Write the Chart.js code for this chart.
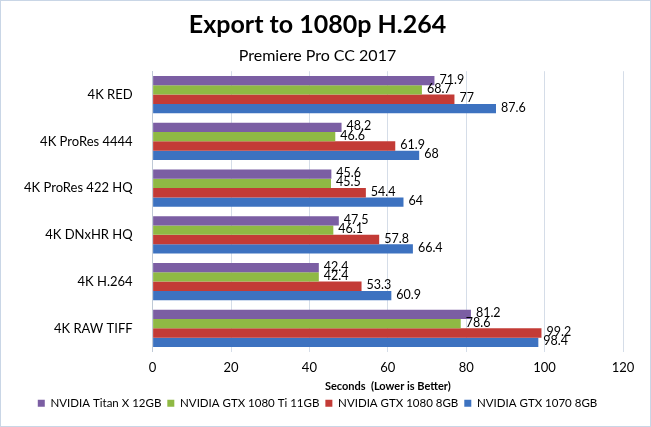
<!DOCTYPE html>
<html>
<head>
<meta charset="utf-8">
<script src="https://cdn.jsdelivr.net/npm/chart.js@4"></script>
<style>
  html, body { margin: 0; padding: 0; background: #fff; }
  #wrap { width: 651px; height: 427px; }
</style>
</head>
<body>
<div id="wrap"><canvas id="chart"></canvas></div>
<script>
var categories = ["4K RED", "4K ProRes 4444", "4K ProRes 422 HQ", "4K DNxHR HQ", "4K H.264", "4K RAW TIFF"];
var titanX = [71.9, 48.2, 45.6, 47.5, 42.4, 81.2];
var gtx1080ti = [68.7, 46.6, 45.5, 46.1, 42.4, 78.6];
var gtx1080 = [77, 61.9, 54.4, 57.8, 53.3, 99.2];
var gtx1070 = [87.6, 68, 64, 66.4, 60.9, 98.4];
var xTicks = [0, 20, 40, 60, 80, 100, 120];

var font = "Lato, 'Open Sans', sans-serif";

// value labels at the end of each bar
var valueLabels = {
    id: 'valueLabels',
    afterDatasetsDraw: function(chart) {
        var ctx = chart.ctx;
        ctx.save();
        ctx.font = "12.5px " + font;
        ctx.fillStyle = '#000';
        ctx.textBaseline = 'middle';
        chart.data.datasets.forEach(function(ds, i) {
            chart.getDatasetMeta(i).data.forEach(function(bar, j) {
                ctx.fillText(ds.data[j], bar.x + 5, bar.y - 1);
            });
        });
        ctx.restore();
    }
};

var frame = {
    id: 'frame',
    afterDraw: function(chart) {
        var ctx = chart.ctx;
        ctx.save();
        ctx.strokeStyle = '#c9d6e6';
        ctx.lineWidth = 1;
        ctx.strokeRect(0.5, 0.5, chart.width - 1, chart.height - 1);
        ctx.restore();
    }
};

var ctx = document.getElementById('chart');
var myChart = new Chart(ctx, {
    type: 'bar',
    data: {
        labels: categories,
        datasets: [
            { label: 'NVIDIA Titan X 12GB', data: titanX, backgroundColor: '#7b5ea3' },
            { label: 'NVIDIA GTX 1080 Ti 11GB', data: gtx1080ti, backgroundColor: '#8fb944' },
            { label: 'NVIDIA GTX 1080 8GB', data: gtx1080, backgroundColor: '#c33b36' },
            { label: 'NVIDIA GTX 1070 8GB', data: gtx1070, backgroundColor: '#3d72c0' }
        ]
    },
    options: {
        indexAxis: 'y',
        responsive: true,
        maintainAspectRatio: false,
        animation: false,
        devicePixelRatio: 1,
        layout: { padding: { top: 8, right: 28, left: 12, bottom: 8 } },
        datasets: { bar: { categoryPercentage: 0.8, barPercentage: 1.0 } },
        scales: {
            x: {
                min: 0,
                max: 120,
                afterBuildTicks: function(axis) {
                    axis.ticks = xTicks.map(function(v) { return { value: v }; });
                },
                grid: { color: '#d5dde8', drawTicks: false },
                border: { display: false },
                ticks: { color: '#000', padding: 8, font: { family: font, size: 13 } },
                title: {
                    display: true,
                    text: 'Seconds  (Lower is Better)',
                    color: '#000',
                    font: { family: font, size: 11, weight: 'bold' },
                    padding: { top: -3, bottom: -2 }
                }
            },
            y: {
                grid: { display: false },
                border: { color: '#bfc9d6' },
                ticks: { color: '#000', padding: 12, font: { family: font, size: 13 } }
            }
        },
        plugins: {
            title: {
                display: true,
                text: 'Export to 1080p H.264',
                color: '#000',
                font: { family: font, size: 25, weight: 'bold' },
                padding: { top: 2, bottom: 6 }
            },
            subtitle: {
                display: true,
                text: 'Premiere Pro CC 2017',
                color: '#000',
                font: { family: font, size: 16 },
                padding: { bottom: 6 }
            },
            legend: {
                position: 'bottom',
                labels: {
                    color: '#000',
                    boxWidth: 7,
                    boxHeight: 7,
                    padding: 6,
                    font: { family: font, size: 11.5 }
                }
            },
            tooltip: { enabled: false }
        }
    },
    plugins: [valueLabels, frame]
});
</script>
</body>
</html>
